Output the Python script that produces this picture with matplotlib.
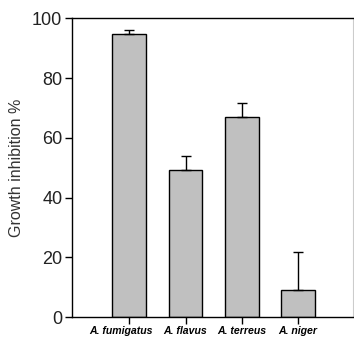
import numpy as np
import matplotlib
matplotlib.use("Agg")
import matplotlib.pyplot as plt
from matplotlib.transforms import ScaledTranslation

plt.rcParams['font.family'] = ['Liberation Sans', 'DejaVu Sans']

# species and measured inhibition
species = ['A. fumigatus', 'A. flavus', 'A. terreus', 'A. niger']
inhibition = [94.6, 49.2, 66.8, 8.9]
err_up = [1.6, 4.8, 4.7, 12.7]

fig = plt.figure(figsize=(3.54, 3.46), dpi=100)
ax = fig.add_axes([0.2034, 0.0838, 0.7936, 0.8632])

x = np.arange(1, len(species) + 1)
ax.bar(x, inhibition, width=0.6, color='#c0c0c0', edgecolor='black',
       linewidth=1.0, zorder=2)
ax.errorbar(x, inhibition, yerr=[np.zeros(len(err_up)), err_up], fmt='none',
            ecolor='black', elinewidth=1.0, capsize=3.6, capthick=1.0, zorder=3)

ax.set_xlim(-0.02, 4.98)
ax.set_ylim(0, 100)
ax.set_yticks([0, 20, 40, 60, 80, 100])
ax.set_xticks(x)
ax.set_xticklabels(species, fontsize=7.6, fontweight='bold', style='italic')
ax.tick_params(axis='y', labelsize=13, length=5, width=1.0, pad=2, labelcolor='#222222')
ax.tick_params(axis='x', length=5, width=1.0, pad=1.5)
ax.set_ylabel('Growth inhibition %', fontsize=11.5, labelpad=6, color='#333333')

# first label sits a bit left of its tick in the original
lab = ax.get_xticklabels()[0]
lab.set_transform(lab.get_transform() + ScaledTranslation(-6 / 72, 0, fig.dpi_scale_trans))

for s in ['left', 'bottom', 'top']:
    ax.spines[s].set_linewidth(1.0)
ax.spines['right'].set_color('#cccccc')

fig.savefig('out.png', dpi=100)
